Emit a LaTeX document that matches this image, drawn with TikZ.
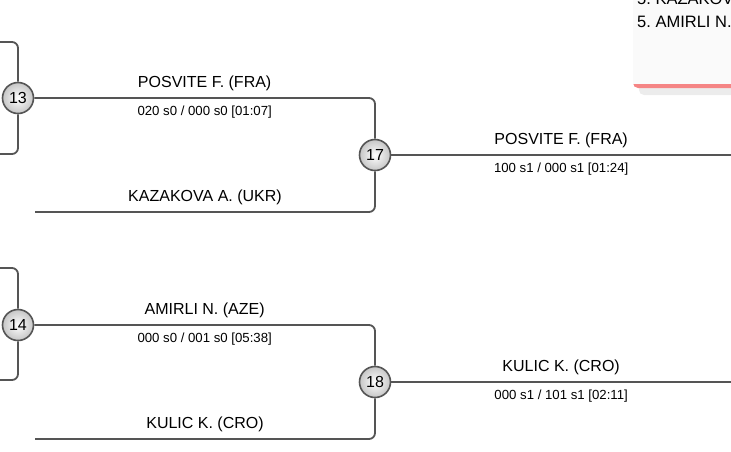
\documentclass[tikz,border=0pt]{standalone}
\usepackage{fontspec}
\setmainfont{Liberation Sans}
\frenchspacing
\usetikzlibrary{positioning,calc}
\definecolor{linegray}{HTML}{555555}
\definecolor{panelred}{HTML}{F58585}
\definecolor{panelbg}{HTML}{FAFAFA}
\tikzset{
  match/.style={circle, draw=linegray, line width=1.6pt, inner color=white, outer color=gray!45,
    minimum size=31pt, inner sep=0pt, font=\fontsize{16}{16}\selectfont},
  wire/.style={draw=linegray, line width=1.8pt, rounded corners=6pt},
  fighter/.style={font=\fontsize{16}{18}\selectfont, above=2.5pt},
  result/.style={font=\fontsize{13.2}{14}\selectfont, below=3.5pt},
  rank/.style={anchor=base west, inner sep=0pt, font=\fontsize{16.5}{18}\selectfont},
}

\begin{document}
\begin{tikzpicture}[x=1pt, y=-1pt]
  \useasboundingbox (0,0) rectangle (731,451);
  \clip (0,0) rectangle (731,451);

  % Standings panel
  \fill[gray!15, rounded corners=5pt] (639,-10) rectangle (745,95);
  \fill[panelred, rounded corners=5pt] (633,-10) rectangle (745,88);
  \fill[panelbg] (633,-10) rectangle (745,84);
  \node[rank] (rank3) at (637,4) {5. KAZAKOVA A. (UKR)};
  \node[rank] (rank5) at (637,27) {5. AMIRLI N. (AZE)};

  % Matches
  \node[match] (m13) at (18,98) {13};
  \node[match] (m14) at (18,325) {14};
  \node[match] (m17) at (375,155) {17};
  \node[match] (m18) at (375,382) {18};

  % Loose ends
  \coordinate (a13) at (0,42);
  \coordinate (b13) at (0,154);
  \coordinate (a14) at (0,268);
  \coordinate (b14) at (0,380);
  \coordinate (k17) at (35,212);
  \coordinate (k18) at (35,439);
  \coordinate (o17) at (731,155);
  \coordinate (o18) at (731,382);

  % Match 13 -> 17
  \draw[wire] (a13) -| (m13.north);
  \draw[wire] (b13) -| (m13.south);
  \draw[wire] (m13.east) -| (m17.north)
    node[pos=0.25, fighter] {POSVITE F. (FRA)}
    node[pos=0.25, result] {020 s0 / 000 s0 [01:07]};
  \draw[wire] (k17) -| (m17.south)
    node[pos=0.25, fighter] {KAZAKOVA A. (UKR)};
  \draw[wire] (m17.east) -- (o17)
    node[midway, fighter] {POSVITE F. (FRA)}
    node[midway, result] {100 s1 / 000 s1 [01:24]};

  % Match 14 -> 18
  \draw[wire] (a14) -| (m14.north);
  \draw[wire] (b14) -| (m14.south);
  \draw[wire] (m14.east) -| (m18.north)
    node[pos=0.25, fighter] {AMIRLI N. (AZE)}
    node[pos=0.25, result] {000 s0 / 001 s0 [05:38]};
  \draw[wire] (k18) -| (m18.south)
    node[pos=0.25, fighter] {KULIC K. (CRO)};
  \draw[wire] (m18.east) -- (o18)
    node[midway, fighter] {KULIC K. (CRO)}
    node[midway, result] {000 s1 / 101 s1 [02:11]};
\end{tikzpicture}
\end{document}
